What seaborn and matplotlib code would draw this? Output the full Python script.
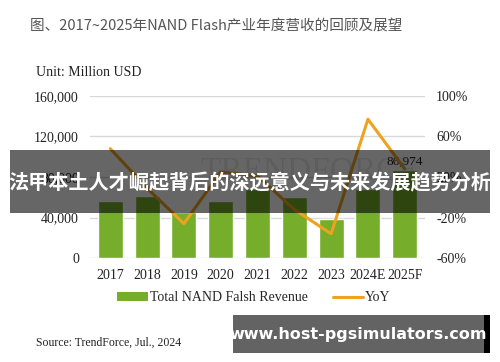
import numpy as np
import matplotlib
matplotlib.use("Agg")
import matplotlib.pyplot as plt
import seaborn as sns
from matplotlib.patches import Patch, Rectangle
from matplotlib.lines import Line2D

years = ["2017", "2018", "2019", "2020", "2021", "2022", "2023", "2024E", "2025F"]
revenue = [56600, 61500, 45500, 56800, 68500, 60000, 38300, 67800, 86974]
yoy = [48, 9, -26, 25, 21, -12, -36, 77, 28]

left_ticks = [0, 40000, 80000, 120000, 160000]
right_ticks = [-60, -20, 20, 60, 100]

green = "#76AD2A"
orange = "#EFA21F"

sns.set_theme(style="white")
serif = ["Liberation Serif", "DejaVu Serif"]
cjk = ["Noto Sans CJK SC", "DejaVu Sans"]

fig = plt.figure(figsize=(5, 3.62), dpi=100)
ax = fig.add_axes([0.18, 0.287, 0.67, 0.448])

sns.barplot(x=years, y=revenue, color=green, width=0.68, saturation=1, ax=ax, zorder=2)
ax.set_ylim(0, 160000)
ax.set_yticks(left_ticks)
ax.set_yticklabels([f"{v:,}" for v in left_ticks], family=serif, fontsize=10, color="#222222")
ax.set_xticks(range(len(years)))
ax.set_xticklabels(years, family=serif, fontsize=10, color="#222222")
ax.set_xlabel("")
ax.set_ylabel("")
ax.set_xlim(-0.55, len(years) - 0.45)
ax.grid(axis="y", color="#d9d9d9", lw=1, zorder=0)
ax.set_axisbelow(True)
for s in ax.spines.values():
    s.set_visible(False)
ax.tick_params(axis="both", length=0, pad=8)

# label on last bar
ax.text(len(years) - 1, revenue[-1] + 2500, f"{revenue[-1]:,}", ha="center", va="bottom",
        family=serif, fontsize=9.5, color="#222222")

ax2 = ax.twinx()
sns.lineplot(x=np.arange(len(years)), y=yoy, color=orange, lw=2.2, ax=ax2, zorder=3)
ax2.set_ylim(-60, 100)
ax2.set_yticks(right_ticks)
ax2.set_yticklabels([f"{v}%" for v in right_ticks], family=serif, fontsize=10, color="#222222")
ax2.set_ylabel("")
for s in ax2.spines.values():
    s.set_visible(False)
ax2.tick_params(axis="y", length=0, pad=8)

# watermark
fig.text(0.40, 0.525, "TRENDFORCE", family=serif, fontsize=24, color="#bbbbbb", alpha=0.3,
         ha="left", va="center")

fig.text(0.06, 0.93, "图、2017~2025年NAND Flash产业年度营收的回顾及展望", family=cjk,
         fontsize=10.5, color="#555555", ha="left", va="center")
fig.text(0.072, 0.80, "Unit: Million USD", family=serif, fontsize=10, color="#222222",
         ha="left", va="center")

handles = [Patch(facecolor=green, edgecolor="none"), Line2D([0], [0], color=orange, lw=2.2)]
fig.legend(handles, ["Total NAND Falsh Revenue", "YoY"], loc="center", bbox_to_anchor=(0.508, 0.177),
           ncol=2, frameon=False, prop={"family": serif, "size": 10}, handlelength=2.2,
           handleheight=0.6, columnspacing=1.8, handletextpad=0.15)

fig.text(0.072, 0.052, "Source: TrendForce, Jul., 2024", family=serif, fontsize=8.5,
         color="#222222", ha="left", va="center")

# overlay banner
fig.patches.append(Rectangle((0.02, 1 - 213 / 362), 0.96, 63 / 362, transform=fig.transFigure,
                             facecolor="#000000", alpha=0.6, edgecolor="none", zorder=10))
fig.text(0.5, 1 - 183 / 362, "法甲本土人才崛起背后的深远意义与未来发展趋势分析", family=cjk,
         fontsize=14.5, fontweight="bold", color="white", ha="center", va="center", zorder=11)

# url box
fig.patches.append(Rectangle((233 / 500, 1 - 353 / 362), 257 / 500, 38 / 362, transform=fig.transFigure,
                             facecolor="#636363", edgecolor="none", zorder=10))
fig.patches.append(Rectangle((484 / 500, 1 - 353 / 362), 6 / 500, 38 / 362, transform=fig.transFigure,
                             facecolor="#000000", edgecolor="none", zorder=10))
fig.text(358 / 500, 1 - 334 / 362, "www.host-pgsimulators.com", family=["DejaVu Sans"],
         fontsize=11.5, fontweight="bold", color="white", ha="center", va="center", zorder=11)

fig.savefig("out.png", dpi=100)
